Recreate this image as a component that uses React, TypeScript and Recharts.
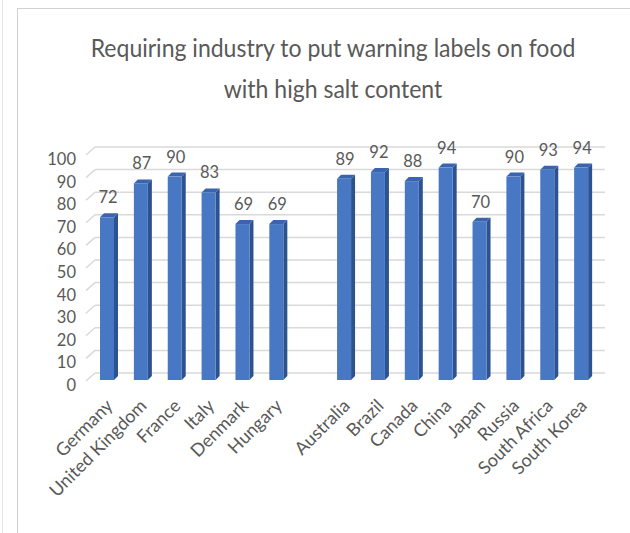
import { BarChart, Bar, XAxis, YAxis, CartesianGrid, LabelList } from "recharts";

const categories = [
  "Germany",
  "United Kingdom",
  "France",
  "Italy",
  "Denmark",
  "Hungary",
  "",
  "Australia",
  "Brazil",
  "Canada",
  "China",
  "Japan",
  "Russia",
  "South Africa",
  "South Korea",
];

const support: (number | null)[] = [72, 87, 90, 83, 69, 69, null, 89, 92, 88, 94, 70, 90, 93, 94];

const yTicks = [0, 10, 20, 30, 40, 50, 60, 70, 80, 90, 100];

const titleLines = ["Requiring industry to put warning labels on food", "with high salt content"];

const data = categories.map((name, i) => ({ name, value: support[i] }));

const FONT = "Lato, 'Open Sans', sans-serif";
const TEXT = "#595959";
const GRID = "#d9d9d9";
const DEPTH = 4;

// 3D-looking column: front face, darker side, lighter cap
function Column(props: any) {
  const { x, y, width, height } = props;
  if (height == null || height <= 0) return null;
  const d = DEPTH;
  return (
    <g>
      <polygon
        points={`${x + width},${y} ${x + width + d},${y - d} ${x + width + d},${y + height - d} ${x + width},${y + height}`}
        fill="#2c5290"
      />
      <polygon
        points={`${x},${y} ${x + d},${y - d} ${x + width + d},${y - d} ${x + width},${y}`}
        fill="#3a64ad"
      />
      <rect x={x} y={y} width={width} height={height} fill="#4878c3" />
    </g>
  );
}

// back-wall gridline plus the short slanted floor edge on the left
function WallLine(props: any) {
  const { x1, x2, y1, index } = props;
  return (
    <g key={`wall-${index}-${y1}`}>
      <line x1={x1 - 4} y1={y1 + 1} x2={x1 + 5} y2={y1 - 7} stroke={GRID} strokeWidth={1.5} />
      <line x1={x1 + 5} y1={y1 - 7} x2={x2 + 7} y2={y1 - 7} stroke={GRID} strokeWidth={1.5} />
    </g>
  );
}

function YTick(props: any) {
  const { x, y, payload } = props;
  return (
    <text x={x - 6} y={y + 5} textAnchor="end" dominantBaseline="central" fill={TEXT} fontSize={16.5} fontFamily={FONT}>
      {payload.value}
    </text>
  );
}

function XTick(props: any) {
  const { x, y, payload } = props;
  if (!payload.value) return null;
  const tx = x + 7;
  const ty = y + 19;
  return (
    <text
      x={tx}
      y={ty}
      transform={`rotate(-45, ${tx}, ${ty})`}
      textAnchor="end"
      fill={TEXT}
      fontSize={18}
      fontFamily={FONT}
    >
      {payload.value}
    </text>
  );
}

function ValueLabel(props: any) {
  const { x, y, width, value } = props;
  if (value == null) return null;
  return (
    <text x={x + width / 2 + 1} y={y - 14} textAnchor="middle" fill={TEXT} fontSize={16.5} fontFamily={FONT}>
      {value}
    </text>
  );
}

export default function App() {
  return (
    <div style={{ position: "absolute", left: 0, top: 0, width: 630, height: 533, background: "#fff" }}>
      <svg width={630} height={533} style={{ position: "absolute", left: 0, top: 0 }}>
        <line x1={2.5} y1={0} x2={2.5} y2={533} stroke="#e4e4e4" />
        <line x1={17.5} y1={8} x2={17.5} y2={533} stroke="#d0d0d0" />
        <line x1={17} y1={8.5} x2={630} y2={8.5} stroke="#d0d0d0" />
        {titleLines.map((t, i) => (
          <text
            key={t}
            transform={`translate(333, ${57 + i * 41}) scale(0.94, 1)`}
            textAnchor="middle"
            fill={TEXT}
            fontSize={24.5}
            fontFamily={FONT}
          >
            {t}
          </text>
        ))}
      </svg>
      <div style={{ position: "absolute", left: 0, top: 0 }}>
        <BarChart
          width={630}
          height={533}
          data={data}
          margin={{ top: 154, right: 32, bottom: 123, left: 0 }}
          barSize={14}
        >
          <CartesianGrid vertical={false} horizontal={WallLine} />
          <XAxis dataKey="name" height={30} interval={0} axisLine={false} tickLine={false} tick={<XTick />} />
          <YAxis
            width={90}
            domain={[0, 100]}
            ticks={yTicks}
            interval={0}
            axisLine={false}
            tickLine={false}
            tick={<YTick />}
          />
          <Bar dataKey="value" shape={<Column />} isAnimationActive={false}>
            <LabelList dataKey="value" content={<ValueLabel />} />
          </Bar>
        </BarChart>
      </div>
    </div>
  );
}
